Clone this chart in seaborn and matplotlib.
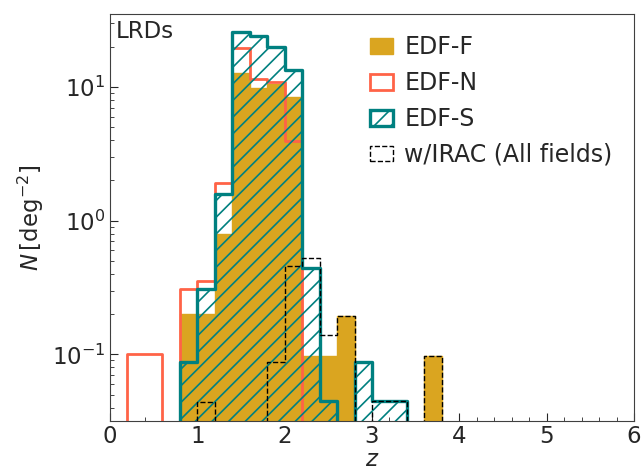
import numpy as np
import pandas as pd
import matplotlib
matplotlib.use("Agg")
import matplotlib.pyplot as plt
from matplotlib.ticker import MultipleLocator
import seaborn as sns

# redshift bins (lower edges of non-empty bins) and surface densities [deg^-2]
bin_edges = [round(0.2 * i, 1) for i in range(31)]

edff_z = [0.8, 1.0, 1.2, 1.4, 1.6, 1.8, 2.0, 2.2, 2.4, 2.6, 3.6]
edff_n = [0.20, 0.20, 0.80, 12.7, 9.9, 10.5, 8.4, 0.098, 0.098, 0.195, 0.098]

edfn_z = [0.2, 0.4, 0.8, 1.0, 1.2, 1.4, 1.6, 1.8, 2.0]
edfn_n = [0.10, 0.10, 0.307, 0.354, 1.90, 19.5, 11.5, 10.8, 3.96]

edfs_z = [0.8, 1.0, 1.2, 1.4, 1.6, 1.8, 2.0, 2.2, 2.4, 2.8, 3.0, 3.2]
edfs_n = [0.088, 0.31, 1.58, 25.6, 23.9, 19.9, 13.3, 0.44, 0.0446, 0.088, 0.0446, 0.0446]

irac_z = [1.0, 1.8, 2.0, 2.2, 2.4, 2.6, 3.0, 3.2, 3.6]
irac_n = [0.044, 0.088, 0.458, 0.524, 0.14, 0.195, 0.0446, 0.0446, 0.098]

sns.set_style("white")
plt.rcParams["hatch.linewidth"] = 1.2
plt.rcParams["font.size"] = 16

fig, ax = plt.subplots(figsize=(6.43, 4.72), dpi=100)
fig.subplots_adjust(left=0.171, right=0.986, bottom=0.109, top=0.970)


def to_df(z, n):
    return pd.DataFrame({"z": np.array(z) + 0.1, "n": n})


sns.histplot(data=to_df(edff_z, edff_n), x="z", weights="n", bins=bin_edges,
             element="step", fill=True, color="goldenrod", alpha=1,
             edgecolor="goldenrod", linewidth=1, label="EDF-F", ax=ax)
sns.histplot(data=to_df(edfn_z, edfn_n), x="z", weights="n", bins=bin_edges,
             element="step", fill=True, color="tomato", facecolor="none",
             edgecolor="tomato", linewidth=2, label="EDF-N", ax=ax)
sns.histplot(data=to_df(edfs_z, edfs_n), x="z", weights="n", bins=bin_edges,
             element="step", fill=True, color="teal", facecolor="none",
             edgecolor="teal", hatch="//", linewidth=2.4, label="EDF-S", ax=ax)
sns.histplot(data=to_df(irac_z, irac_n), x="z", weights="n", bins=bin_edges,
             element="step", fill=True, color="black", facecolor="none",
             edgecolor="black", linestyle="--", linewidth=1,
             label="w/IRAC (All fields)", ax=ax)

ax.set_yscale("log")
ax.set_xlim(0, 6)
ax.set_ylim(0.032, 35)
ax.xaxis.set_minor_locator(MultipleLocator(0.2))
ax.tick_params(which="both", direction="in", labelsize=16.5, left=True, bottom=True)
ax.tick_params(which="major", length=6)
ax.tick_params(which="minor", length=3)
for s in ax.spines.values():
    s.set_color("0.25")

ax.set_xlabel(r"$z$", fontsize=16.5, labelpad=0)
ax.set_ylabel(r"$N\,[\mathrm{deg}^{-2}]$", fontsize=16.5, labelpad=4)
ax.text(0.012, 0.985, "LRDs", transform=ax.transAxes, ha="left", va="top", fontsize=16.5)
ax.legend(loc="upper right", frameon=False, fontsize=17, handlelength=0.97,
          handleheight=0.64, handletextpad=0.47, labelspacing=0.5)

plt.savefig("out.png", dpi=100)
